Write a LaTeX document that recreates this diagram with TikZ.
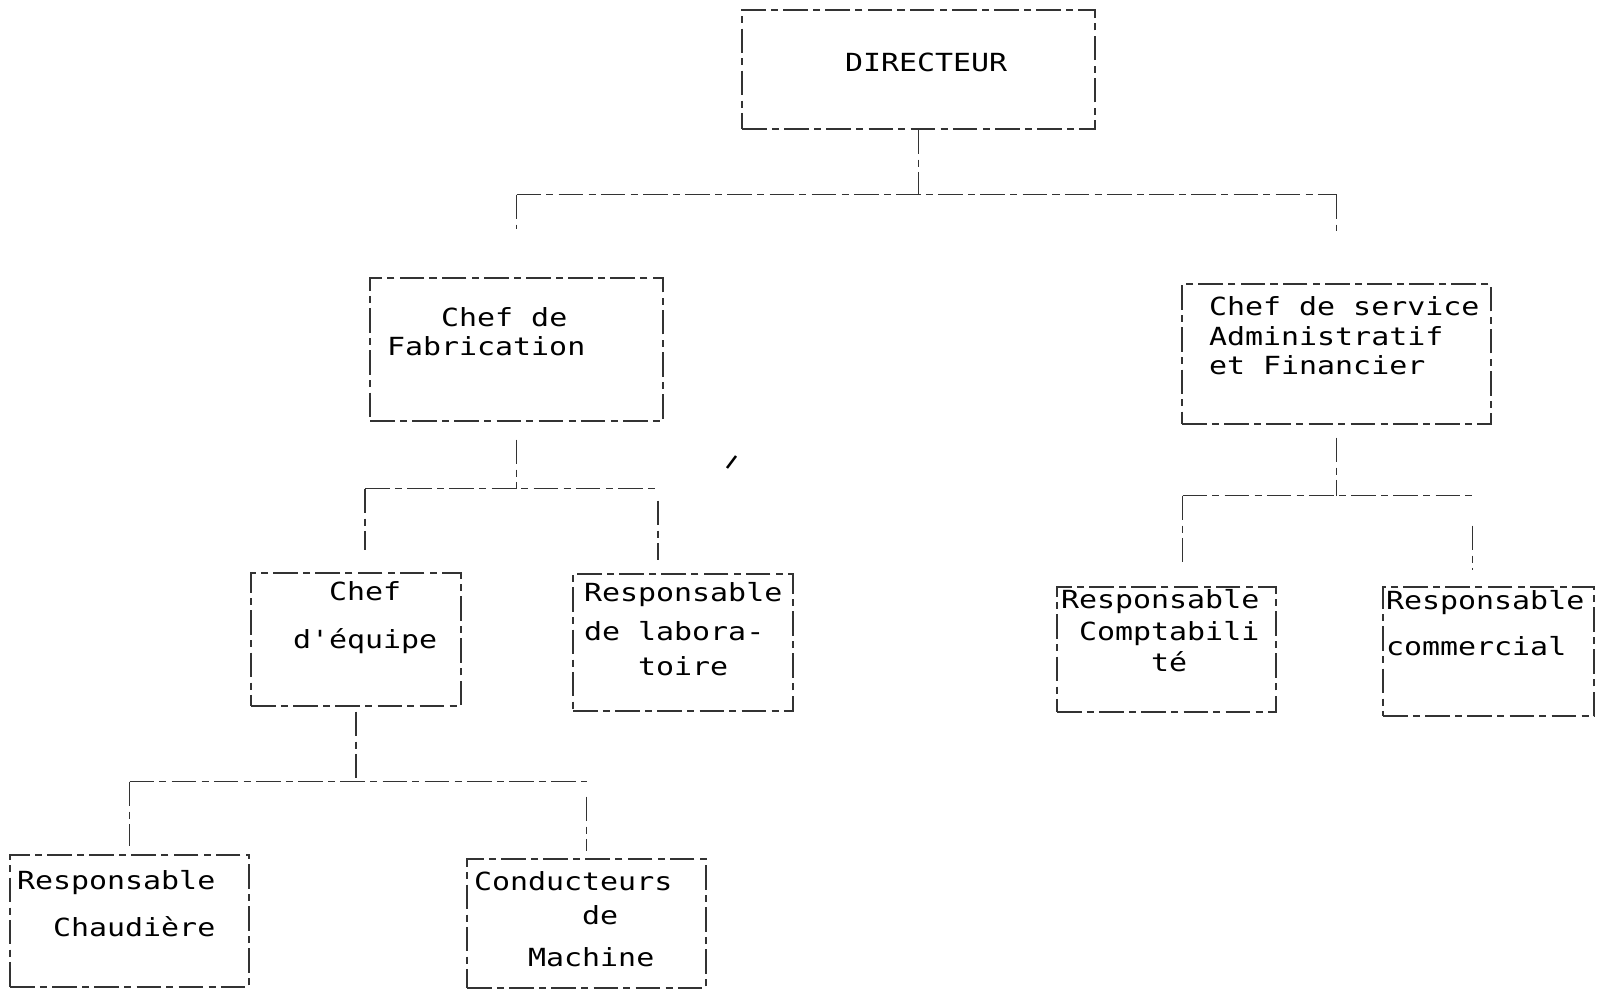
\documentclass[tikz,border=0pt]{standalone}
\usepackage{fontspec}
\newfontfamily\orgfont[FakeStretch=1.2]{DejaVu Sans Mono}
\usetikzlibrary{positioning}
\newcommand\pad[1]{\hphantom{#1}}
\tikzset{
  box/.style={draw=black!80,line width=0.4pt,dash pattern=on 7pt off 1.5pt on 2pt off 1.5pt,inner sep=0pt},
  txt/.style={inner sep=0pt,align=left,font=\orgfont\fontsize{7.1}{8}\selectfont},
  link/.style={draw=black!80,line width=0.4pt,dash pattern=on 7pt off 1.5pt on 2pt off 1.5pt},
}
\begin{document}
\begin{tikzpicture}
  \useasboundingbox (0,0) rectangle (16,-9.93);
  % boxes
  \node[box,minimum width=3.53cm,minimum height=1.19cm] (dir) at (9.185,-0.695) {};
  \node[box,minimum width=2.93cm,minimum height=1.43cm] (fab) at (5.165,-3.495) {};
  \node[box,minimum width=3.09cm,minimum height=1.40cm] (admin) at (13.365,-3.54) {};
  \node[box,minimum width=2.10cm,minimum height=1.33cm] (equipe) at (3.56,-6.395) {};
  \node[box,minimum width=2.20cm,minimum height=1.37cm] (labo) at (6.83,-6.425) {};
  \node[box,minimum width=2.19cm,minimum height=1.25cm] (compta) at (11.665,-6.495) {};
  \node[box,minimum width=2.11cm,minimum height=1.29cm] (comm) at (14.885,-6.515) {};
  \node[box,minimum width=2.39cm,minimum height=1.32cm] (chaud) at (1.295,-9.21) {};
  \node[box,minimum width=2.39cm,minimum height=1.29cm] (cond) at (5.865,-9.235) {};
  % texts
  \node[txt,below right=0.43cm and 1.03cm of dir.north west] (dirtxt) {DIRECTEUR};
  \node[txt,below right=0.30cm and 0.17cm of fab.north west] (fabtxt) {\pad{xxx}Chef de\\Fabrication};
  \node[txt,below right=0.13cm and 0.27cm of admin.north west] (admintxt) {Chef de service\\[0.3pt]Administratif\\[0.3pt]et Financier};
  \node[txt,below right=0.09cm and 0.42cm of equipe.north west] (equipetxt) {\pad{xx}Chef\\[5.4pt]d'équipe};
  \node[txt,below right=0.08cm and 0.11cm of labo.north west] (labotxt) {Responsable\\[3.1pt]de labora-\\[2.2pt]\pad{xxx}toire};
  \node[txt,below right=0.02cm and 0.04cm of compta.north west] (comptatxt) {Responsable\\[1.1pt]\pad{x}Comptabili\\[0.9pt]\pad{xxxxx}té};
  \node[txt,below right=0.03cm and 0.03cm of comm.north west] (commtxt) {Responsable\\[5.1pt]commercial};
  \node[txt,below right=0.15cm and 0.07cm of chaud.north west] (chaudtxt) {Responsable\\[5.4pt]\pad{xx}Chaudière};
  \node[txt,below right=0.13cm and 0.07cm of cond.north west] (condtxt) {Conducteurs\\[1.4pt]\pad{xxxxxx}de\\[4.2pt]\pad{xxx}Machine};
  % directeur
  \coordinate (busA) at ([yshift=-0.65cm]dir.south);
  \draw[link] (dir.south) -- (busA);
  \draw[link] (fab.north |- busA) -- (admin.north |- busA);
  \draw[link,shorten >=0.48cm] (fab.north |- busA) -- (fab.north);
  \draw[link,shorten >=0.52cm] (admin.north |- busA) -- (admin.north);
  % fabrication
  \coordinate (busB) at ([yshift=-0.67cm]fab.south);
  \coordinate (dropEq) at ([xshift=0.09cm]equipe.north);
  \coordinate (dropLab) at ([xshift=-0.25cm]labo.north);
  \draw[link,shorten <=0.18cm] (fab.south) -- (busB);
  \draw[link] (dropEq |- busB) -- (dropLab |- busB);
  \draw[link,shorten >=0.22cm] (dropEq |- busB) -- (dropEq);
  \draw[link,shorten <=0.12cm,shorten >=0.13cm] (dropLab |- busB) -- (dropLab);
  % administration
  \coordinate (busC) at ([yshift=-0.71cm]admin.south);
  \coordinate (dropCpt) at ([xshift=0.16cm]compta.north);
  \coordinate (dropCom) at ([xshift=-0.16cm]comm.north);
  \draw[link,shorten <=0.13cm] (admin.south) -- (busC);
  \draw[link] (dropCpt |- busC) -- (dropCom |- busC);
  \draw[link,shorten >=0.21cm] (dropCpt |- busC) -- (dropCpt);
  \draw[link,shorten <=0.30cm,shorten >=0.16cm] (dropCom |- busC) -- (dropCom);
  % equipe
  \coordinate (busD) at ([yshift=-0.75cm]equipe.south);
  \draw[link,shorten <=0.05cm] (equipe.south) -- (busD);
  \draw[link] (chaud.north |- busD) -- (cond.north |- busD);
  \draw[link,shorten >=0.08cm] (chaud.north |- busD) -- (chaud.north);
  \draw[link,shorten <=0.15cm,shorten >=0.07cm] (cond.north |- busD) -- (cond.north);
  % stray mark
  \draw[line width=0.7pt] (7.27,-4.68) -- (7.36,-4.56);
\end{tikzpicture}
\end{document}
